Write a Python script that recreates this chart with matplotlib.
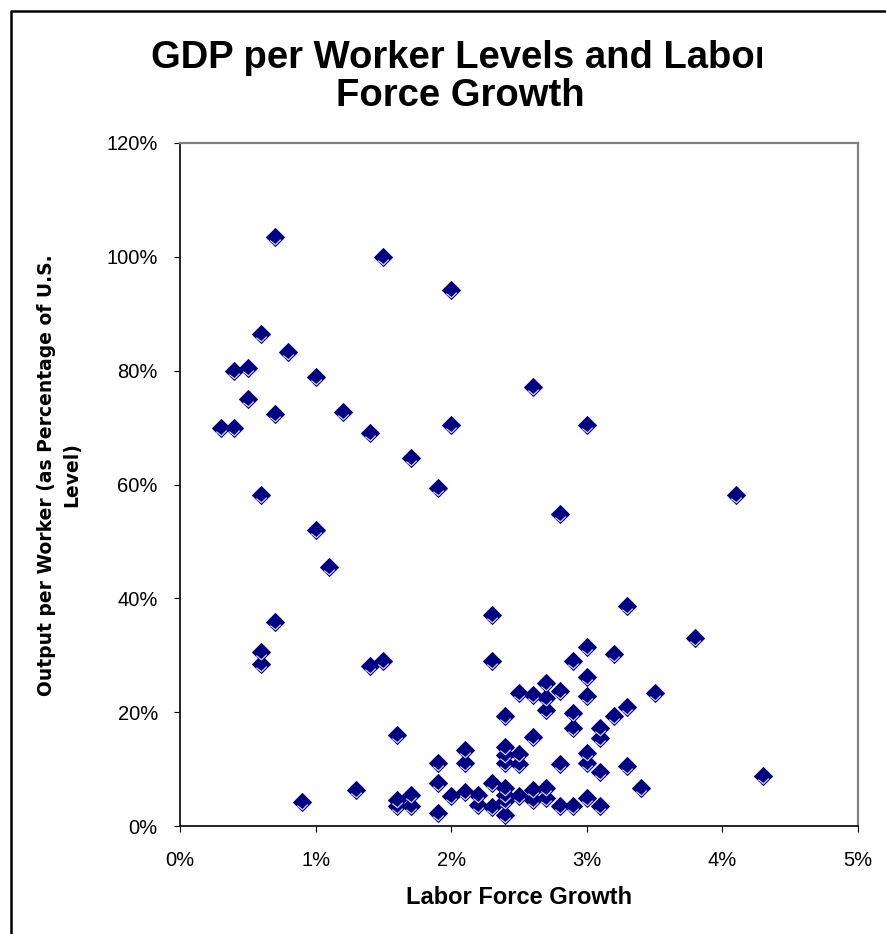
import matplotlib
matplotlib.use("Agg")
import matplotlib.pyplot as plt
from matplotlib.ticker import PercentFormatter
from matplotlib.path import Path
from matplotlib.lines import Line2D
from matplotlib.transforms import Bbox

# labor force growth (% per year) and output per worker (% of U.S. level)
growth = [0.7, 1.5, 2.0, 0.6, 0.8, 0.4, 0.5, 1.0, 2.6, 0.5,
          0.7, 1.2, 0.3, 0.4, 1.4, 2.0, 3.0, 1.7, 0.6, 1.9,
          4.1, 2.8, 1.0, 1.1, 3.3, 2.3, 0.7, 3.8, 3.0, 0.6,
          3.2, 0.6, 1.4, 1.5, 2.3, 2.9, 3.0, 2.7, 2.8, 2.5,
          2.6, 3.0, 2.7, 3.5, 3.3, 2.7, 2.9, 2.4, 3.2, 2.9,
          3.1, 1.6, 2.6, 3.1, 2.4, 2.1, 3.0, 2.4, 2.5, 1.9,
          2.1, 2.4, 2.5, 2.8, 3.0, 3.3, 3.1, 4.3, 1.9, 2.3,
          3.4, 2.7, 2.4, 2.6, 1.3, 2.1, 2.2, 1.7, 2.4, 2.0,
          2.5, 2.7, 3.0, 2.6, 0.9, 1.6, 2.4, 1.6, 1.7, 2.2,
          2.3, 2.8, 2.9, 3.1, 1.9, 2.4]
output = [103.5, 100.0, 94.2, 86.4, 83.2, 80.0, 80.4, 78.8, 77.1, 75.1,
          72.3, 72.7, 70.0, 70.0, 69.1, 70.5, 70.5, 64.6, 58.2, 59.3,
          58.2, 54.9, 52.0, 45.5, 38.7, 37.1, 35.8, 33.0, 31.4, 30.6,
          30.2, 28.5, 28.1, 29.0, 29.0, 29.0, 26.2, 25.1, 23.7, 23.3,
          23.0, 22.8, 22.5, 23.3, 20.9, 20.4, 19.9, 19.3, 19.3, 17.2,
          17.2, 16.0, 15.7, 15.4, 13.8, 13.4, 12.9, 12.4, 12.6, 11.1,
          11.0, 11.0, 10.9, 10.9, 11.0, 10.5, 9.5, 8.8, 7.6, 7.6,
          6.6, 6.6, 6.6, 6.3, 6.3, 5.9, 5.4, 5.4, 5.4, 5.2,
          5.2, 4.9, 4.9, 4.6, 4.3, 4.5, 4.4, 3.5, 3.5, 3.7,
          3.3, 3.5, 3.5, 3.5, 2.3, 1.9]

x_ticks = [0, 1, 2, 3, 4, 5]
y_ticks = [0, 20, 40, 60, 80, 100, 120]

navy = "#000080"

fig = plt.figure(figsize=(8.87, 9.34), dpi=100)
ax = fig.add_axes([180/887, 1 - 826/934, 678/887, 683/934])

ax.plot(growth, output, linestyle="none", marker="D", markersize=9,
        markerfacecolor=navy, markeredgecolor=navy, markeredgewidth=0.7)
# little light chevron inside each diamond
chevron = Path([(-5, -3), (0, -7), (5, -2)], [Path.MOVETO, Path.LINETO, Path.LINETO])
ax.plot(growth, output, linestyle="none", marker=chevron, markersize=10.5,
        markerfacecolor="none", markeredgecolor="#d0d0f8", markeredgewidth=0.9)

ax.set_xlim(0, 5)
ax.set_ylim(0, 120)
ax.set_xticks(x_ticks)
ax.set_yticks(y_ticks)
ax.xaxis.set_major_formatter(PercentFormatter(decimals=0))
ax.yaxis.set_major_formatter(PercentFormatter(decimals=0))
ax.tick_params(axis="both", direction="out", length=4.5, width=0.8,
               labelsize=14.5, labelfontfamily="Liberation Sans")
ax.tick_params(axis="x", pad=13.5)
ax.tick_params(axis="y", pad=11.5)

for side in ["top", "right"]:
    ax.spines[side].set_color("#808080")
    ax.spines[side].set_linewidth(1.6)
for side in ["left", "bottom"]:
    ax.spines[side].set_color("black")
    ax.spines[side].set_linewidth(1.2)

ax.set_xlabel("Labor Force Growth", fontsize=17, fontweight="bold",
              family="Liberation Sans")
ax.xaxis.label.set_va("center")
ax.xaxis.set_label_coords(0.5, -0.104)

ax.set_ylabel("Output per Worker (as Percentage of U.S.\nLevel)", fontsize=13.5,
              fontweight="bold", family="DejaVu Sans", multialignment="center",
              linespacing=1.45)
ax.yaxis.label.set_va("center")
ax.yaxis.set_label_coords(-0.178, 0.514)

# title; the first line runs past the chart box and is cut after "Labo"
title_kw = dict(ha="center", va="center", fontsize=27.5, fontweight="bold",
                family="Liberation Sans")
line1 = "GDP per Worker Levels and Labor"
t1 = fig.text(460/887, 1 - 58/934, line1, **title_kw)
fig.text(460/887, 1 - 96/934, "Force Growth", **title_kw)

renderer = fig.canvas.get_renderer()
full = t1.get_window_extent(renderer)
probe = fig.text(0, 0, line1[:-1], **title_kw)
prefix_w = probe.get_window_extent(renderer).width
probe.remove()
em = 27.5 * fig.dpi / 72
cut_x = full.x0 + prefix_w + 0.2 * em
t1.set_clip_box(Bbox([[0, 0], [cut_x, fig.bbox.height]]))
t1.set_clip_on(True)

# outer chart frame (left and top edges)
fig.add_artist(Line2D([11/887, 11/887, 1.0], [0.0, 1 - 11/934, 1 - 11/934],
                      transform=fig.transFigure, color="black", linewidth=1.8))

fig.savefig("out.png", dpi=100)
